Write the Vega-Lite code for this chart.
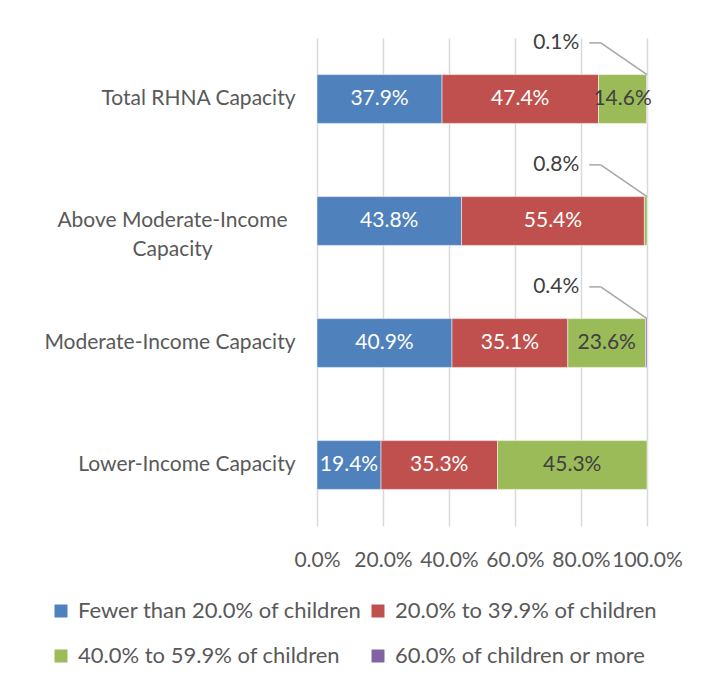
{
  "$schema": "https://vega.github.io/schema/vega-lite/v6.json",
  "width": 330,
  "height": 488,
  "autosize": {"type": "none"},
  "padding": {"left": 317, "top": 38, "right": 54, "bottom": 156},
  "background": "white",
  "data": {
    "values": [
      {"cat": "Total RHNA Capacity", "series": "Fewer than 20.0% of children", "k": 1, "value": 0.379},
      {"cat": "Total RHNA Capacity", "series": "20.0% to 39.9% of children", "k": 2, "value": 0.474},
      {"cat": "Total RHNA Capacity", "series": "40.0% to 59.9% of children", "k": 3, "value": 0.146},
      {"cat": "Total RHNA Capacity", "series": "60.0% of children or more", "k": 4, "value": 0.001},
      {"cat": "Above Moderate-Income Capacity", "series": "Fewer than 20.0% of children", "k": 1, "value": 0.438},
      {"cat": "Above Moderate-Income Capacity", "series": "20.0% to 39.9% of children", "k": 2, "value": 0.554},
      {"cat": "Above Moderate-Income Capacity", "series": "40.0% to 59.9% of children", "k": 3, "value": 0.008},
      {"cat": "Moderate-Income Capacity", "series": "Fewer than 20.0% of children", "k": 1, "value": 0.409},
      {"cat": "Moderate-Income Capacity", "series": "20.0% to 39.9% of children", "k": 2, "value": 0.351},
      {"cat": "Moderate-Income Capacity", "series": "40.0% to 59.9% of children", "k": 3, "value": 0.236},
      {"cat": "Moderate-Income Capacity", "series": "60.0% of children or more", "k": 4, "value": 0.004},
      {"cat": "Lower-Income Capacity", "series": "Fewer than 20.0% of children", "k": 1, "value": 0.194},
      {"cat": "Lower-Income Capacity", "series": "20.0% to 39.9% of children", "k": 2, "value": 0.353},
      {"cat": "Lower-Income Capacity", "series": "40.0% to 59.9% of children", "k": 3, "value": 0.453}
    ]
  },
  "encoding": {
    "y": {
      "field": "cat",
      "type": "nominal",
      "sort": ["Total RHNA Capacity", "Above Moderate-Income Capacity", "Moderate-Income Capacity", "Lower-Income Capacity"],
      "scale": {"paddingInner": 0.6, "paddingOuter": 0.3},
      "axis": {
        "title": null,
        "domain": false,
        "ticks": false,
        "labelFont": "Lato",
        "labelFontSize": 21,
        "labelColor": "#595959",
        "labelLimit": 0,
        "labelPadding": {"condition": {"test": "datum.value == 'Above Moderate-Income Capacity'", "value": 145}, "value": 22},
        "labelAlign": {"condition": {"test": "datum.value == 'Above Moderate-Income Capacity'", "value": "center"}, "value": "right"},
        "labelLineHeight": 29,
        "labelExpr": "datum.value == 'Above Moderate-Income Capacity' ? ['Above Moderate-Income', 'Capacity'] : datum.value"
      }
    }
  },
  "layer": [
    {
      "mark": {"type": "bar", "stroke": "white", "strokeWidth": 0.5},
      "encoding": {
        "x": {
          "field": "value",
          "type": "quantitative",
          "stack": "zero",
          "scale": {"domain": [0, 1]},
          "axis": {
            "title": null,
            "values": [0, 0.2, 0.4, 0.6, 0.8, 1],
            "format": ".1%",
            "domain": false,
            "ticks": false,
            "grid": true,
            "gridColor": "#d9d9d9",
            "gridWidth": 1.5,
            "labelFont": "Lato",
            "labelFontSize": 21,
            "labelColor": "#595959",
            "labelPadding": 23,
            "labelOverlap": false,
            "labelFlush": false
          }
        },
        "order": {"field": "k", "type": "quantitative"},
        "color": {
          "field": "series",
          "type": "nominal",
          "scale": {
            "domain": ["Fewer than 20.0% of children", "20.0% to 39.9% of children", "40.0% to 59.9% of children", "60.0% of children or more"],
            "range": ["#4f81bd", "#c0504d", "#9bbb59", "#8064a2"]
          },
          "legend": {
            "title": null,
            "orient": "none",
            "legendX": -267,
            "legendY": 562,
            "columns": 2,
            "direction": "horizontal",
            "symbolType": "square",
            "symbolSize": 169,
            "symbolStrokeWidth": 0,
            "labelFont": "Lato",
            "labelFontSize": 22,
            "labelColor": "#595959",
            "labelLimit": 0,
            "labelOffset": 6,
            "rowPadding": 23,
            "columnPadding": 5,
            "padding": 0
          }
        }
      }
    },
    {
      "transform": [
        {"stack": "value", "groupby": ["cat"], "sort": [{"field": "k"}], "as": ["v0", "v1"]},
        {"calculate": "(datum.v0 + datum.v1) / 2", "as": "mid"},
        {"filter": "datum.value >= 0.05"}
      ],
      "mark": {"type": "text", "font": "Lato", "fontSize": 21, "baseline": "middle", "align": "center"},
      "encoding": {
        "x": {"field": "mid", "type": "quantitative"},
        "text": {"field": "value", "type": "quantitative", "format": ".1%"},
        "color": {
          "condition": {"test": "datum.k == 3", "value": "#404040"},
          "value": "white"
        }
      }
    },
    {
      "transform": [{"filter": "datum.value < 0.05"}],
      "mark": {"type": "text", "font": "Lato", "fontSize": 21, "baseline": "middle", "align": "right", "color": "#404040"},
      "encoding": {
        "x": {"datum": 0.795},
        "y": {"field": "cat", "type": "nominal", "sort": ["Total RHNA Capacity", "Above Moderate-Income Capacity", "Moderate-Income Capacity", "Lower-Income Capacity"], "bandPosition": -0.65},
        "text": {"field": "value", "type": "quantitative", "format": ".1%"}
      }
    },
    {
      "transform": [{"filter": "datum.value < 0.05"}],
      "mark": {"type": "rule", "color": "#a6a6a6", "strokeWidth": 1.5},
      "encoding": {
        "x": {"datum": 0.825},
        "x2": {"datum": 0.86},
        "y": {"field": "cat", "type": "nominal", "sort": ["Total RHNA Capacity", "Above Moderate-Income Capacity", "Moderate-Income Capacity", "Lower-Income Capacity"], "bandPosition": -0.65}
      }
    },
    {
      "transform": [{"filter": "datum.value < 0.05"}],
      "mark": {"type": "rule", "color": "#a6a6a6", "strokeWidth": 1.5},
      "encoding": {
        "x": {"datum": 0.86},
        "x2": {"datum": 1},
        "y": {"field": "cat", "type": "nominal", "sort": ["Total RHNA Capacity", "Above Moderate-Income Capacity", "Moderate-Income Capacity", "Lower-Income Capacity"], "bandPosition": -0.65},
        "y2": {"field": "cat", "bandPosition": 0}
      }
    }
  ],
  "config": {"view": {"stroke": null}}
}
